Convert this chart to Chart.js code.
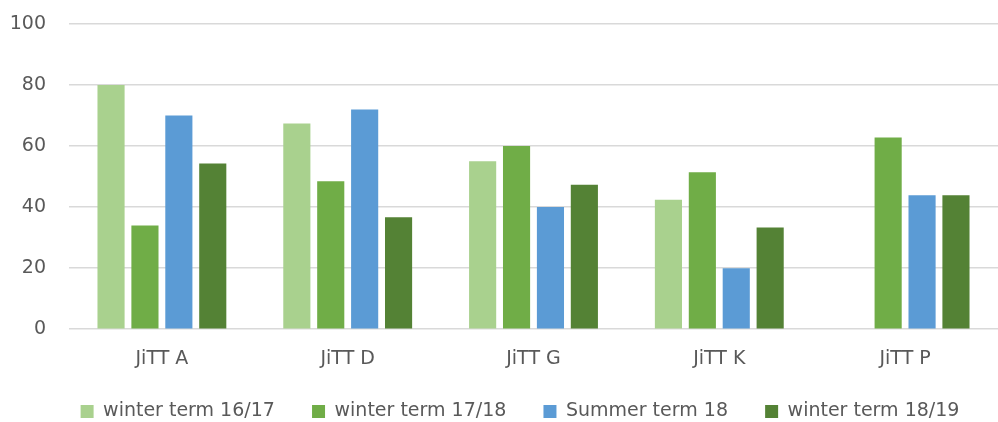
<!DOCTYPE html>
<html>
<head>
<meta charset="utf-8">
<script src="https://cdn.jsdelivr.net/npm/chart.js@4/dist/chart.umd.min.js"></script>
<style>
  html, body { margin: 0; padding: 0; background: #fff; }
  #wrap { width: 998px; height: 422px; position: relative; }
</style>
</head>
<body>
<div id="wrap"><canvas id="termChart"></canvas></div>
<script>
const categories = ['JiTT A', 'JiTT D', 'JiTT G', 'JiTT K', 'JiTT P'];
const seriesNames = ['winter term 16/17', 'winter term 17/18', 'Summer term 18', 'winter term 18/19'];
const winter1617 = [80, 67.4, 55, 42.4, null];
const winter1718 = [34, 48.5, 60, 51.4, 62.8];
const summer18 = [70, 72, 40, 20, 43.9];
const winter1819 = [54.3, 36.7, 47.3, 33.3, 43.9];
const yTicks = [0, 20, 40, 60, 80, 100];

const colors = ['#A9D18E', '#70AD47', '#5B9BD5', '#548235'];
const textColor = '#595959';
const fontFamily = '"DejaVu Sans", sans-serif';

// nudge the legend to where the original sits (it is not centred on the canvas)
const legendNudge = {
    id: 'legendNudge',
    afterLayout(chart) {
        const l = chart.legend;
        if (!l) return;
        l.left += 21; l.right += 21;
        l.top += 1; l.bottom += 1;
    }
};

document.addEventListener('DOMContentLoaded', function() {
    const ctx = document.getElementById('termChart').getContext('2d');
    const values = [winter1617, winter1718, summer18, winter1819];

    new Chart(ctx, {
        type: 'bar',
        data: {
            labels: categories,
            datasets: seriesNames.map((name, i) => ({
                label: name,
                data: values[i],
                backgroundColor: colors[i],
                borderWidth: 0,
                categoryPercentage: 0.73,
                barPercentage: 0.8
            }))
        },
        options: {
            responsive: true,
            maintainAspectRatio: false,
            animation: false,
            layout: {
                padding: { top: 24, right: 0, bottom: -8, left: 0 }
            },
            plugins: {
                tooltip: { enabled: false },
                legend: {
                    position: 'bottom',
                    labels: {
                        boxWidth: 13,
                        boxHeight: 13,
                        padding: 13,
                        color: textColor,
                        font: { family: fontFamily, size: 19 },
                        generateLabels(chart) {
                            const items = Chart.defaults.plugins.legend.labels.generateLabels(chart);
                            items.forEach((it, i) => {
                                if (i < items.length - 1) it.text = it.text + '    ';
                            });
                            return items;
                        }
                    }
                }
            },
            scales: {
                x: {
                    grid: { display: false, drawTicks: false },
                    border: { display: false },
                    ticks: {
                        color: textColor,
                        padding: 18,
                        font: { family: fontFamily, size: 19 }
                    }
                },
                y: {
                    min: 0,
                    max: 100,
                    afterFit(scale) {
                        scale.width = 69;
                        scale.paddingTop = 0;
                        scale.paddingBottom = 0;
                    },
                    afterBuildTicks(scale) { scale.ticks = yTicks.map(v => ({ value: v })); },
                    grid: { color: '#D9D9D9', lineWidth: 1.5, drawTicks: false },
                    border: { display: false },
                    ticks: {
                        color: textColor,
                        padding: 23,
                        font: { family: fontFamily, size: 19 }
                    }
                }
            }
        },
        plugins: [legendNudge]
    });
});
</script>
</body>
</html>
